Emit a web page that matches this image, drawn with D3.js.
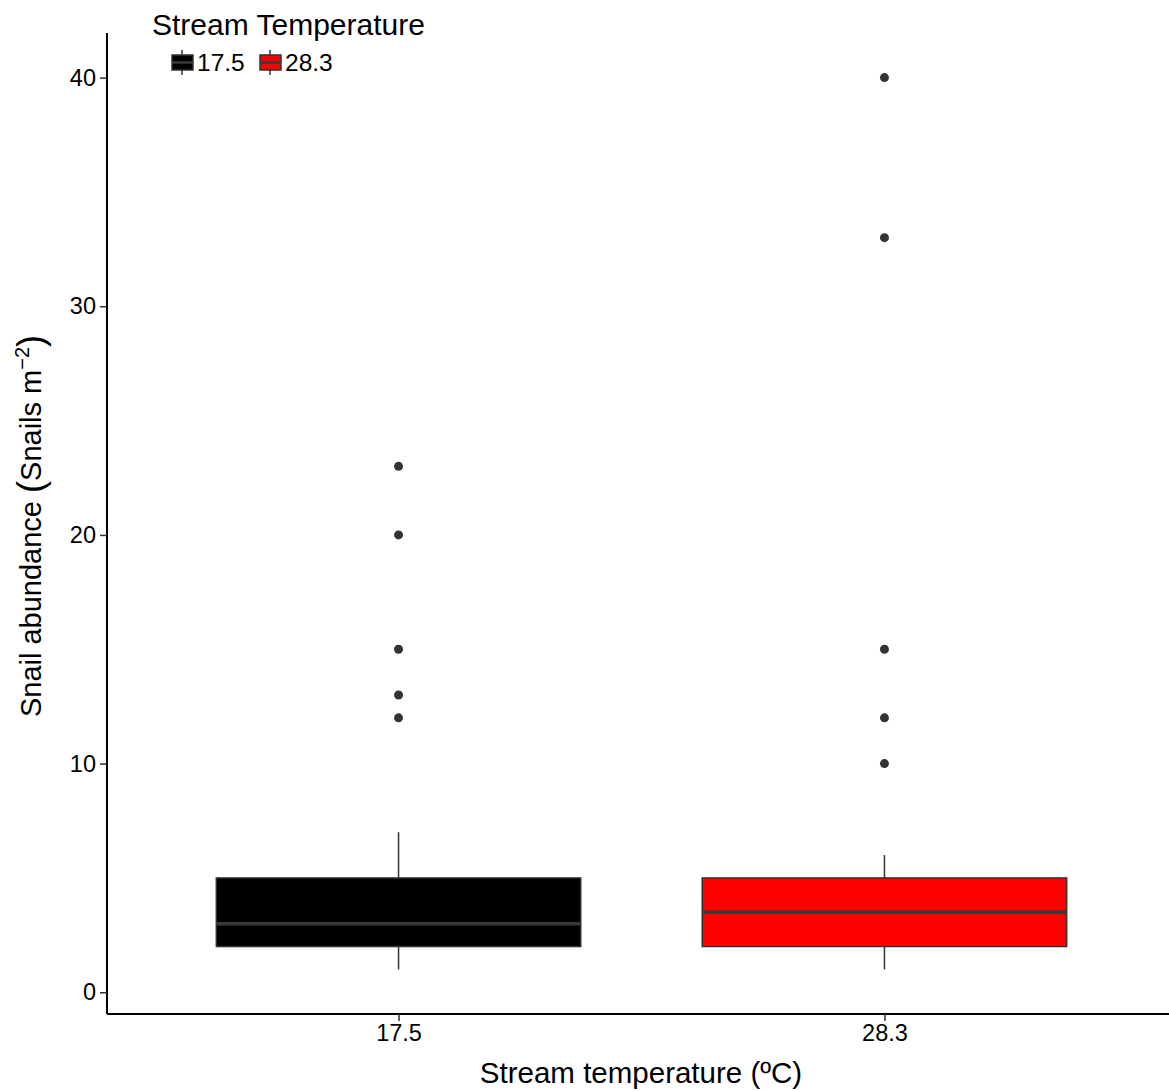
<!DOCTYPE html>
<html>
<head>
<script src="https://d3js.org/d3.v7.min.js"></script>
<style>
  body { margin: 0; background: #fff; overflow: hidden; }
  text { font-family: "Liberation Sans", Arial, Helvetica, sans-serif; }
</style>
</head>
<body>
<svg id="chart"></svg>
<script>
// box summaries per stream temperature
var groups = ["17.5", "28.3"];
var fills = ["#000000", "#ff0000"];
var lowWhisker = [1, 1];
var q1 = [2, 2];
var medians = [3, 3.5];
var q3 = [5, 5];
var highWhisker = [7, 6];
var outliers = [[12, 13, 15, 20, 23], [10, 12, 15, 33, 40]];
var yTicks = [0, 10, 20, 30, 40];

var width = 1169, height = 1090;
var pLeft = 107, pRight = 1176, pTop = 33, pBottom = 1014;

var svg = d3.select('#chart').attr('width', width).attr('height', height);

var y = d3.scaleLinear().domain([-0.95, 41.95]).range([pBottom, pTop]);
// discrete positions 1 and 2 with ggplot-like padding (panel runs a bit past the right edge)
var xc = d3.scaleLinear().domain([0.4, 2.6]).range([pLeft, pRight]);
var unit = xc(2) - xc(1);
var boxW = unit * 0.75;

var boxes = groups.map(function(g, i) {
  return {g: g, i: i, cx: xc(i + 1), fill: fills[i], lo: lowWhisker[i], q1: q1[i],
          med: medians[i], q3: q3[i], hi: highWhisker[i], out: outliers[i]};
});

var plot = svg.append('g');

// whiskers
plot.selectAll('line.wu').data(boxes).enter().append('line')
  .attr('x1', d => d.cx).attr('x2', d => d.cx)
  .attr('y1', d => y(d.q3)).attr('y2', d => y(d.hi))
  .attr('stroke', '#333').attr('stroke-width', 1.5);
plot.selectAll('line.wl').data(boxes).enter().append('line')
  .attr('x1', d => d.cx).attr('x2', d => d.cx)
  .attr('y1', d => y(d.q1)).attr('y2', d => y(d.lo))
  .attr('stroke', '#333').attr('stroke-width', 1.5);

// boxes
plot.selectAll('rect.box').data(boxes).enter().append('rect')
  .attr('x', d => d.cx - boxW / 2).attr('width', boxW)
  .attr('y', d => y(d.q3)).attr('height', d => y(d.q1) - y(d.q3))
  .attr('fill', d => d.fill).attr('stroke', '#333').attr('stroke-width', 1.5);

// medians
plot.selectAll('line.med').data(boxes).enter().append('line')
  .attr('x1', d => d.cx - boxW / 2).attr('x2', d => d.cx + boxW / 2)
  .attr('y1', d => y(d.med)).attr('y2', d => y(d.med))
  .attr('stroke', '#3a3a3a').attr('stroke-width', 3.5);

// outliers
boxes.forEach(function(b) {
  plot.selectAll(null).data(b.out).enter().append('circle')
    .attr('cx', b.cx).attr('cy', d => y(d)).attr('r', 4.5)
    .attr('fill', '#333');
});

// y axis
var yAxis = svg.append('g').attr('transform', 'translate(' + pLeft + ',0)')
  .call(d3.axisLeft(y).tickValues(yTicks).tickSize(7).tickPadding(4).tickFormat(d3.format('d')));
yAxis.select('.domain').attr('d', 'M0,' + pTop + 'V' + pBottom).attr('stroke', '#000').attr('stroke-width', 2);
yAxis.selectAll('.tick line').attr('stroke', '#333').attr('stroke-width', 1.5);
yAxis.selectAll('.tick text').style('font-size', '23.5px').attr('fill', '#000');

// x axis
var xAxis = svg.append('g').attr('transform', 'translate(0,' + pBottom + ')')
  .call(d3.axisBottom(xc).tickValues([1, 2]).tickSize(7).tickPadding(3)
    .tickFormat(function(d) { return groups[d - 1]; }));
xAxis.select('.domain').attr('d', 'M' + pLeft + ',0H' + pRight).attr('stroke', '#000').attr('stroke-width', 2);
xAxis.selectAll('.tick line').attr('stroke', '#333').attr('stroke-width', 1.5);
xAxis.selectAll('.tick text').style('font-size', '23.5px').attr('fill', '#000');

// axis titles
svg.append('text').attr('x', 641).attr('y', 1083)
  .attr('text-anchor', 'middle').style('font-size', '29.5px').text('Stream temperature (ºC)');

var yt = svg.append('text').attr('transform', 'translate(41,526) rotate(-90)')
  .attr('text-anchor', 'middle').style('font-size', '29px');
yt.append('tspan').text('Snail abundance ');
yt.append('tspan').style('font-size', '36px').attr('dy', 2).text('(');
yt.append('tspan').attr('dy', -2).text('Snails m');
yt.append('tspan').style('font-size', '20px').attr('dy', -12).text('−2');
yt.append('tspan').style('font-size', '36px').attr('dy', 14).text(')');

// legend
svg.append('text').attr('x', 152).attr('y', 35).style('font-size', '30px').text('Stream Temperature');
var keyX = [171, 259];
var leg = svg.selectAll('g.key').data(boxes).enter().append('g')
  .attr('transform', (d, i) => 'translate(' + keyX[i] + ',50)');
leg.append('line').attr('x1', 11).attr('x2', 11).attr('y1', 0).attr('y2', 25)
  .attr('stroke', '#333').attr('stroke-width', 1.5);
leg.append('rect').attr('x', 1).attr('y', 5).attr('width', 21).attr('height', 15)
  .attr('fill', d => d.fill).attr('stroke', '#333').attr('stroke-width', 1.5);
leg.append('line').attr('x1', 1).attr('x2', 22).attr('y1', 12.5).attr('y2', 12.5)
  .attr('stroke', '#3a3a3a').attr('stroke-width', 2.5);
leg.append('text').attr('x', 26).attr('y', 21).style('font-size', '24.5px').text(d => d.g);
</script>
</body>
</html>
